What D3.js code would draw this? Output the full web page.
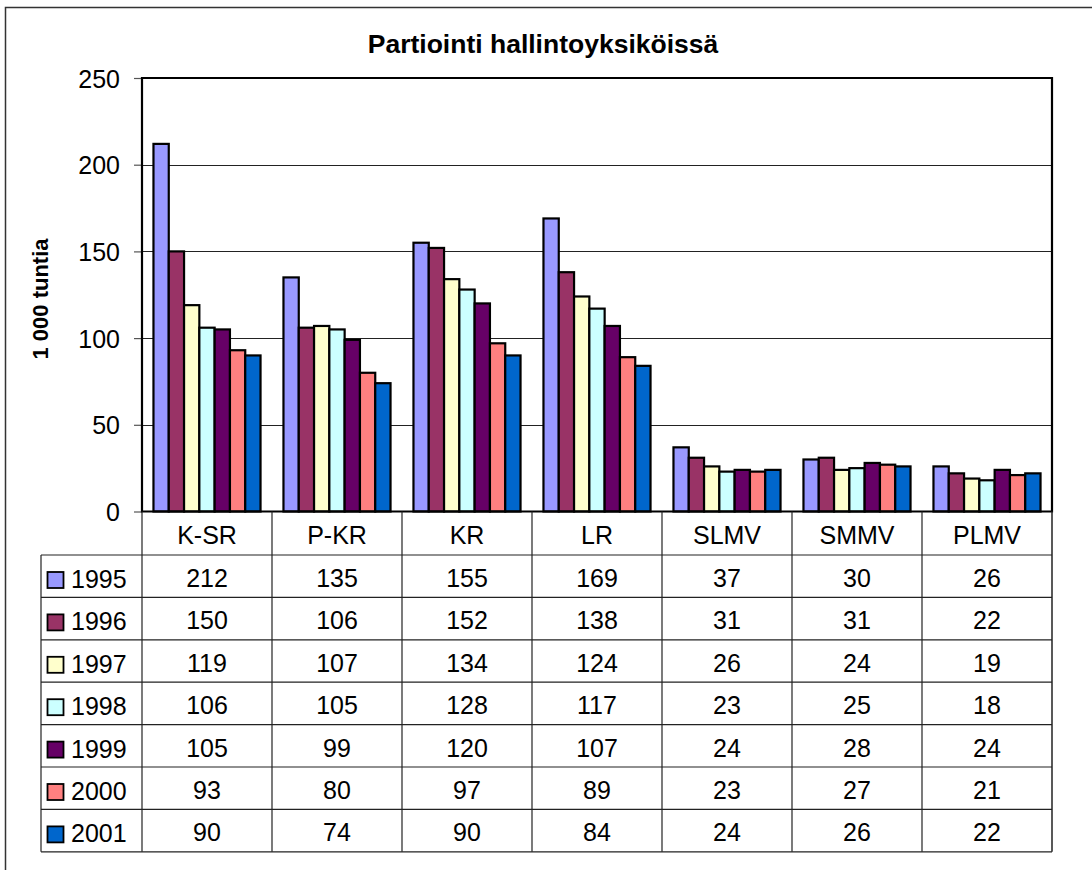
<!DOCTYPE html>
<html>
<head>
<meta charset="utf-8">
<script src="https://cdn.jsdelivr.net/npm/d3@7"></script>
<style>
  body { margin: 0; background: #fff; }
  text { font-family: Arial, "Liberation Sans", sans-serif; fill: #000; }
</style>
</head>
<body>
<div id="my_dataviz"></div>
<script>
// data
const categories = ["K-SR", "P-KR", "KR", "LR", "SLMV", "SMMV", "PLMV"];
const years = ["1995", "1996", "1997", "1998", "1999", "2000", "2001"];
const values1995 = [212, 135, 155, 169, 37, 30, 26];
const values1996 = [150, 106, 152, 138, 31, 31, 22];
const values1997 = [119, 107, 134, 124, 26, 24, 19];
const values1998 = [106, 105, 128, 117, 23, 25, 18];
const values1999 = [105, 99, 120, 107, 24, 28, 24];
const values2000 = [93, 80, 97, 89, 23, 27, 21];
const values2001 = [90, 74, 90, 84, 24, 26, 22];
const yTicks = [0, 50, 100, 150, 200, 250];
const colors = ["#9999FF", "#993366", "#FFFFCC", "#CCFFFF", "#660066", "#FF8080", "#0066CC"];

const seriesValues = [values1995, values1996, values1997, values1998, values1999, values2000, values2001];
const series = years.map((yr, i) => ({ year: yr, color: colors[i], values: seriesValues[i] }));

const W = 1092, H = 870;
const plot = {left: 142, right: 1052, top: 78, bottom: 511.5};
const tableLeft = 41, headerBottom = 555, rowH = 42.4;

const svg = d3.select("#my_dataviz")
  .append("svg")
    .attr("width", W)
    .attr("height", H);

// outer chart frame (clipped by the picture on the right/bottom)
svg.append("rect")
  .attr("x", 5.5).attr("y", 7.5)
  .attr("width", 1200).attr("height", 1000)
  .attr("fill", "none")
  .attr("stroke", "#333")
  .attr("stroke-width", 1.5);

// scales
const x0 = d3.scaleBand()
  .domain(categories)
  .range([plot.left, plot.right]);

const x1 = d3.scaleBand()
  .domain(years)
  .range([0, x0.bandwidth()])
  .paddingInner(0)
  .paddingOuter(0.75);

const y = d3.scaleLinear()
  .domain([0, 250])
  .range([plot.bottom, plot.top]);

// gridlines
svg.append("g")
  .selectAll("line")
  .data(yTicks.filter(d => d > 0 && d < 250))
  .join("line")
    .attr("x1", plot.left)
    .attr("x2", plot.right)
    .attr("y1", d => Math.round(y(d)) + 0.5)
    .attr("y2", d => Math.round(y(d)) + 0.5)
    .attr("stroke", "#222")
    .attr("stroke-width", 1);

// Y axis
const yAxis = svg.append("g")
  .attr("transform", `translate(${plot.left},0)`)
  .call(d3.axisLeft(y).tickValues(yTicks).tickSize(8).tickPadding(14));
yAxis.select(".domain").remove();
yAxis.selectAll(".tick line").attr("stroke", "#555").attr("stroke-width", 1.2);
yAxis.selectAll(".tick text")
  .style("font-size", "25px")
  .attr("dy", "0.36em");

// bars
const groups = svg.append("g")
  .selectAll("g")
  .data(categories)
  .join("g")
    .attr("transform", d => `translate(${x0(d)},0)`);

groups.selectAll("rect")
  .data((c, ci) => series.map(s => ({ year: s.year, color: s.color, value: s.values[ci] })))
  .join("rect")
    .attr("x", d => x1(d.year))
    .attr("y", d => y(d.value))
    .attr("width", x1.bandwidth())
    .attr("height", d => y(0) - y(d.value))
    .attr("fill", d => d.color)
    .attr("stroke", "#000")
    .attr("stroke-width", 2.2);

// plot area border
svg.append("path")
  .attr("d", `M${plot.left},${plot.bottom} V${plot.top} H${plot.right} V${plot.bottom} Z`)
  .attr("fill", "none")
  .attr("stroke", "#000")
  .attr("stroke-width", 2.2);

// data table
const tableBottom = headerBottom + rowH * years.length;
const table = svg.append("g");

// vertical lines at category boundaries
const bounds = categories.map(c => x0(c)).concat([plot.right]);
table.selectAll(".vline")
  .data(bounds)
  .join("line")
    .attr("class", "vline")
    .attr("x1", d => d).attr("x2", d => d)
    .attr("y1", plot.bottom).attr("y2", tableBottom)
    .attr("stroke", "#222")
    .attr("stroke-width", d => d === plot.right ? 1.5 : 1.2);

// horizontal lines
table.selectAll(".hline")
  .data(d3.range(years.length + 1))
  .join("line")
    .attr("class", "hline")
    .attr("x1", tableLeft).attr("x2", plot.right)
    .attr("y1", i => headerBottom + i * rowH)
    .attr("y2", i => headerBottom + i * rowH)
    .attr("stroke", "#222")
    .attr("stroke-width", 1.2);

table.append("line")
  .attr("x1", tableLeft).attr("x2", tableLeft)
  .attr("y1", headerBottom).attr("y2", tableBottom)
  .attr("stroke", "#222")
  .attr("stroke-width", 1.2);

// category labels
table.selectAll(".cat")
  .data(categories)
  .join("text")
    .attr("class", "cat")
    .attr("x", d => x0(d) + x0.bandwidth() / 2)
    .attr("y", plot.bottom + 32)
    .attr("text-anchor", "middle")
    .style("font-size", "25px")
    .text(d => d);

// rows
const rows = table.selectAll(".row")
  .data(series)
  .join("g")
    .attr("class", "row")
    .attr("transform", (d, i) => `translate(0,${headerBottom + i * rowH})`);

rows.append("rect")
  .attr("x", 47.5).attr("y", 17)
  .attr("width", 16).attr("height", 16)
  .attr("fill", d => d.color)
  .attr("stroke", "#000")
  .attr("stroke-width", 1.8);

rows.append("text")
  .attr("x", 71)
  .attr("y", 33)
  .style("font-size", "25px")
  .text(d => d.year);

rows.selectAll(".val")
  .data(d => d.values.map((v, ci) => ({ v: v, c: categories[ci] })))
  .join("text")
    .attr("class", "val")
    .attr("x", d => x0(d.c) + x0.bandwidth() / 2)
    .attr("y", 32)
    .attr("text-anchor", "middle")
    .style("font-size", "25px")
    .text(d => d.v);

// title
svg.append("text")
  .attr("x", 543)
  .attr("y", 53)
  .attr("text-anchor", "middle")
  .style("font-size", "26.5px")
  .style("font-weight", "bold")
  .text("Partiointi hallintoyksiköissä");

// y axis label
svg.append("text")
  .attr("transform", "translate(48,299) rotate(-90)")
  .attr("text-anchor", "middle")
  .style("font-size", "22px")
  .style("font-weight", "bold")
  .text("1 000 tuntia");
</script>
</body>
</html>
